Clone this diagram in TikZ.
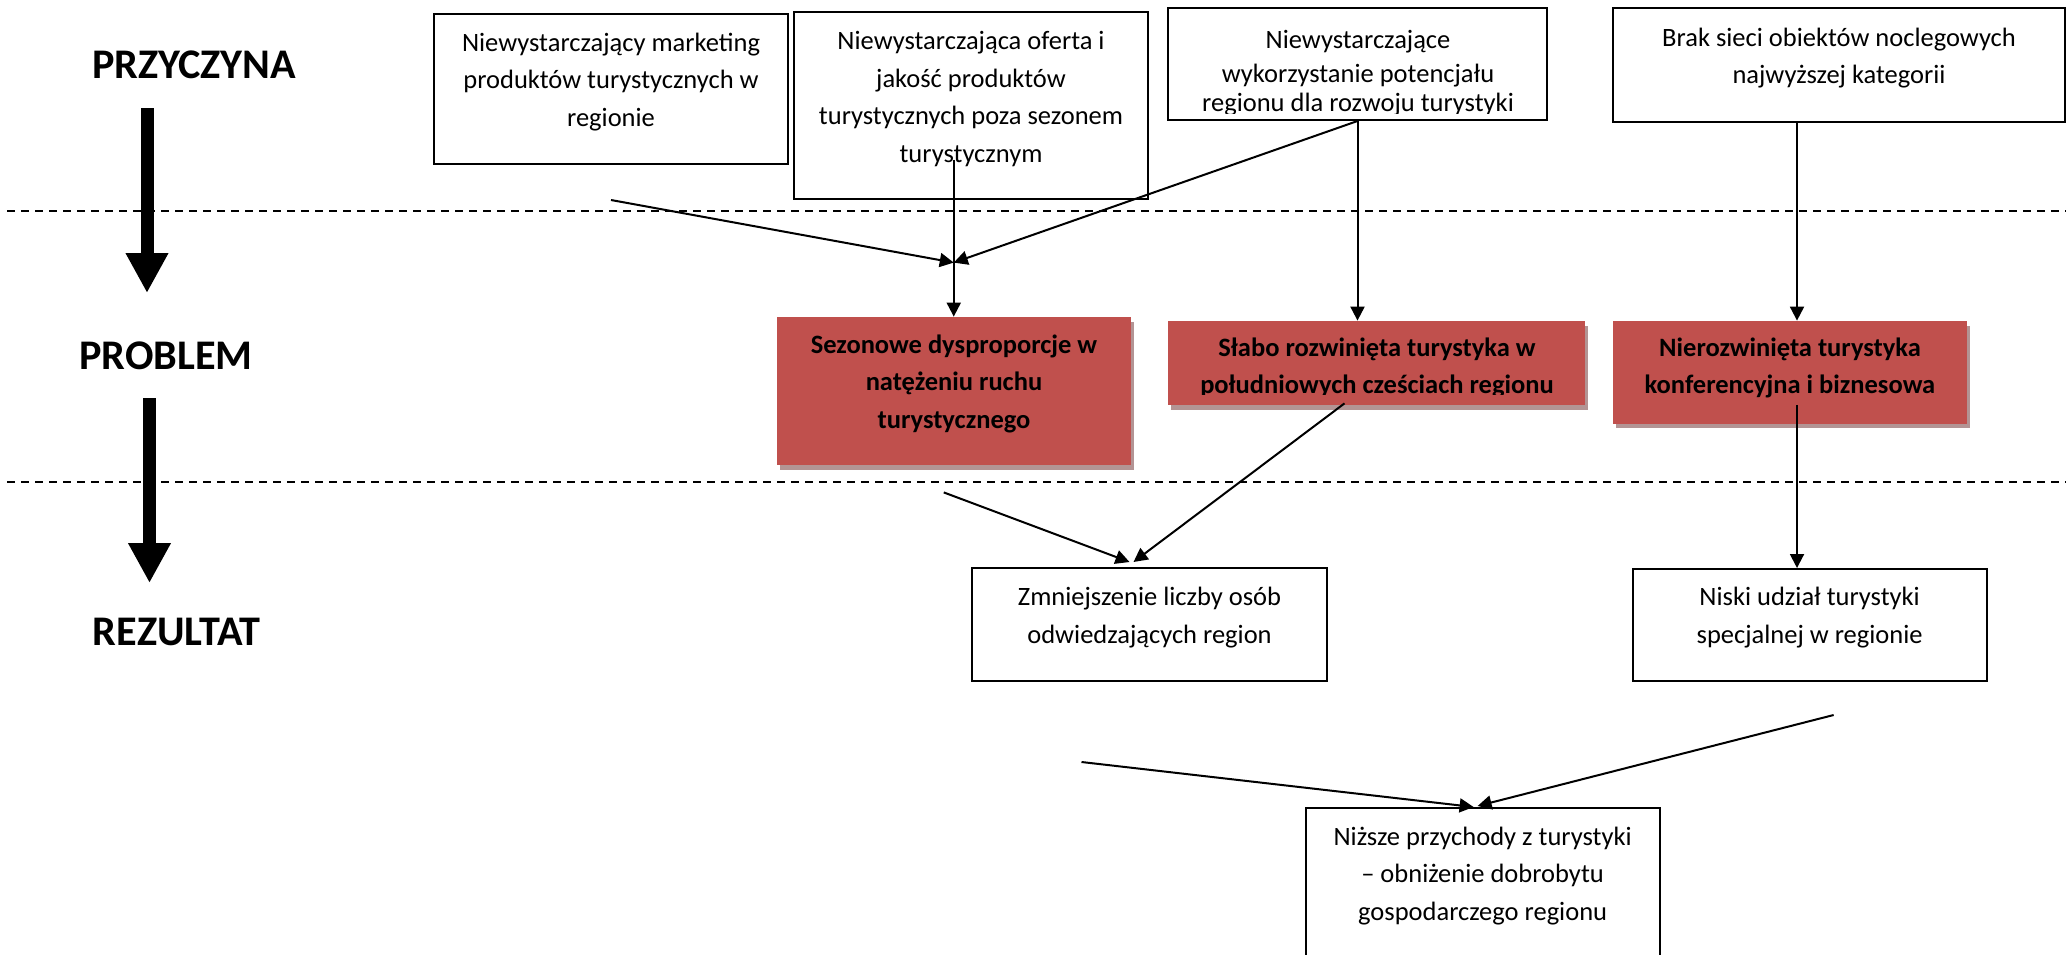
\documentclass[tikz,border=0pt]{standalone}
\usepackage{fontspec}
\setmainfont{Carlito}
\usetikzlibrary{arrows.meta}
\usetikzlibrary{calc}
\usetikzlibrary{fit}
\usetikzlibrary{shadows}
\definecolor{red}{HTML}{C0504D}
\definecolor{pink}{HTML}{B39494}

\begin{document}
\begin{tikzpicture}[
	x=0.5pt,
	y=-0.5pt,
	font=\fontsize{13.25}{18.75}\selectfont,
	box/.style={
		draw,
		fill=white,
		line width=1pt,
		inner sep=0pt,
	},
	problem/.style={
		fill=red,
		inner sep=0pt,
		drop shadow={
			shadow xshift=1.5pt,
			shadow yshift=-2.4pt,
			fill=pink,
			opacity=1,
		},
	},
	txt/.style={
		anchor=base,
		inner sep=0pt,
		align=center,
	},
	boldtxt/.style={
		txt,
		font=\fontsize{13.25}{18.75}\selectfont\bfseries,
	},
	head/.style={
		anchor=base,
		inner sep=0pt,
		font=\fontsize{21.1}{25}\selectfont\bfseries,
	},
	conn/.style={
		line width=1pt,
		-{Triangle[length=7pt,width=7pt]},
	},
	sep/.style={
		line width=1pt,
		dash pattern=on 4pt off 3pt,
	},
	bigarrow/.style={
		line width=6.5pt,
		-{Triangle[length=20pt,width=20pt]},
	},
]
\clip (0,0) rectangle (2066,954);

\node[head] (przyczyna) at (194,78) {PRZYCZYNA};
\node[head] (problem) at (166,369) {PROBLEM};
\node[head] (rezultat) at (176.5,645) {REZULTAT};
\draw[bigarrow] ($(przyczyna.base)+(-47,30)$) -- ($(problem.base)+(-19,-76)$);
\draw[bigarrow] ($(problem.base)+(-16.5,29)$) -- ($(rezultat.base)+(-27,-62)$);

\draw[sep] (7,211) -- (2066,211);
\draw[sep] (7,482) -- (2066,482);

\node[box, fit={(434,14) (788,164)}] (c1) {};
\node[box, fit={(794,12) (1148,199)}] (c2) {};
\node[box, fit={(1168,8) (1547,120)}] (c3) {};
\node[box, fit={(1613,8) (2065,122)}] (c4) {};
\node[txt] (c1t) at (611,126) {Niewystarczający marketing\\produktów turystycznych w\\regionie};
\node[txt] (c2t) at (971,162) {Niewystarczająca oferta i\\jakość produktów\\turystycznych poza sezonem\\turystycznym};
\begin{scope}
	\clip (1168,8) rectangle (1547,113);
	\node[txt] (c3t) at (1358,111) {Niewystarczające\\[-1.75pt]wykorzystanie potencjału\\[-4.5pt]regionu dla rozwoju turystyki};
\end{scope}
\node[txt] (c4t) at (1839,83.5) {Brak sieci obiektów noclegowych\\najwyższej kategorii};

\node[problem, fit={(776.5,317) (1131,465)}] (r1) {};
\node[problem, fit={(1168,321) (1585,405)}] (r2) {};
\node[problem, fit={(1612.5,321) (1967,423.5)}] (r3) {};
\node[boldtxt] (r1t) at (954,428) {Sezonowe dysproporcje w\\natężeniu ruchu\\turystycznego};
\begin{scope}
	\clip (1168,321) rectangle (1585,394.5);
	\node[boldtxt] (r2t) at (1377,393.5) {Słabo rozwinięta turystyka w\\południowych cześciach regionu};
\end{scope}
\node[boldtxt] (r3t) at (1790,393.5) {Nierozwinięta turystyka\\konferencyjna i biznesowa};

\node[box, fit={(972,568) (1327,681)}] (e1) {};
\node[box, fit={(1632.6,569) (1986.7,681)}] (e2) {};
\node[box, fit={(1305.5,808) (1659.7,990)}] (e3) {};
\node[txt] (e1t) at (1149.5,643) {Zmniejszenie liczby osób\\odwiedzających region};
\node[txt] (e2t) at (1809.6,643) {Niski udział turystyki\\specjalnej w regionie};
\node[txt] (e3t) at (1482.6,920) {Niższe przychody z turystyki\\– obniżenie dobrobytu\\gospodarczego regionu};

\coordinate (m1) at ($(r1.north)+(0,-54)$);
\coordinate (x4) at (1797,0);
\draw[conn] ($(c1.south)+(0,35)$) -- (m1);
\draw[conn] (c3.south) -- (m1);
\draw[conn] ($(r1.north)+(0,-157)$) -- (r1.north);
\draw[conn] (c3.south) -- (c3.south |- r2.north);
\draw[conn] (x4 |- c4.south) -- (x4 |- r3.north);
\draw[conn] ($(x4 |- r3.south)+(0,-19)$) -- (x4 |- e2.north);
\draw[conn] ($(r1.south)+(-10,27)$) -- ($(e1.north)+(-20,-5)$);
\draw[conn] ($(r2.south)+(-32,-2)$) -- ($(e1.north)+(-16,-5)$);
\draw[conn] ($(e1.south)+(-68,80)$) -- ($(e3.north)+(-9,0)$);
\draw[conn] ($(e2.south)+(24,33)$) -- ($(e3.north)+(-5,-1)$);
\end{tikzpicture}
\end{document}
